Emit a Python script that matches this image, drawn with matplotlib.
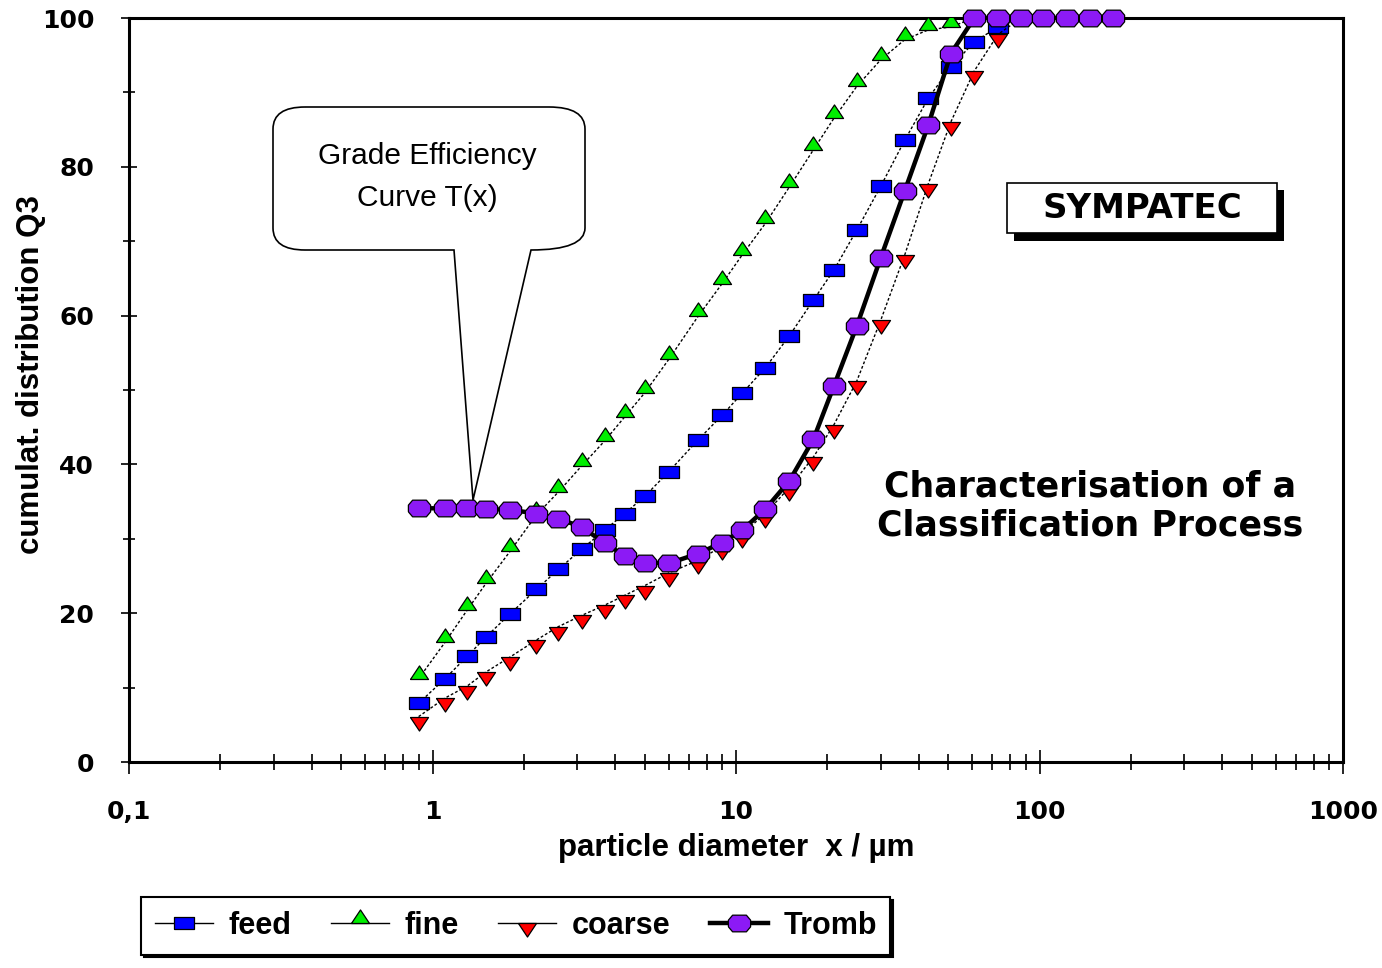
import matplotlib
matplotlib.use('Agg')
import matplotlib.pyplot as plt
from matplotlib.path import Path
from matplotlib.patches import PathPatch, Rectangle
from matplotlib.lines import Line2D
from matplotlib.transforms import Affine2D
from matplotlib.ticker import FixedLocator, LogLocator, NullFormatter

# particle size classes (µm)
x_classes = [0.9, 1.1, 1.3, 1.5, 1.8, 2.2, 2.6, 3.1, 3.7, 4.3, 5.0, 6.0, 7.5, 9.0, 10.5,
             12.5, 15, 18, 21, 25, 30, 36, 43, 51, 61, 73, 87, 103, 123, 147, 175]

# cumulative distributions Q3 (%)
feed = [7.9, 11.2, 14.2, 16.8, 19.9, 23.2, 25.9, 28.6, 31.2, 33.4, 35.7, 39.0, 43.3, 46.6, 49.6,
        53.0, 57.3, 62.1, 66.1, 71.5, 77.4, 83.6, 89.2, 93.4, 96.8, 98.8, 100, 100, 100, 100, 100]
fine = [11.2, 16.1, 20.4, 24.0, 28.3, 33.2, 36.3, 39.8, 43.2, 46.4, 49.6, 54.1, 59.9, 64.3, 68.2,
        72.4, 77.3, 82.3, 86.5, 90.8, 94.4, 97.1, 98.4, 98.8, 100, 100, 100, 100, 100, 100, 100]
coarse = [6.1, 8.6, 10.2, 12.1, 14.1, 16.4, 18.2, 19.7, 21.1, 22.4, 23.7, 25.4, 27.1, 29.0, 30.7,
          33.4, 36.9, 41.0, 45.3, 51.2, 59.4, 68.2, 77.7, 86.0, 92.9, 97.8, 100, 100, 100, 100, 100]
tromb = [34.1, 34.1, 34.1, 34.0, 33.9, 33.4, 32.7, 31.6, 29.4, 27.7, 26.8, 26.7, 28.0, 29.5, 31.2,
         34.0, 37.8, 43.4, 50.5, 58.6, 67.8, 76.8, 85.6, 95.2, 100, 100, 100, 100, 100, 100, 100]

series_names = ['feed', 'fine', 'coarse', 'Tromb']
xtick_vals = [0.1, 1, 10, 100, 1000]
xtick_labels = ['0,1', '1', '10', '100', '1000']
ytick_vals = [0, 20, 40, 60, 80, 100]

W, H = 1382, 968
fig = plt.figure(figsize=(W / 100, H / 100), dpi=100)
ax = fig.add_axes([129 / W, 1 - 762 / H, (1343 - 129) / W, (762 - 18) / H])
# pixel coordinates with origin at the top-left corner of the picture
px = Affine2D().scale(1 / W, -1 / H).translate(0, 1) + fig.transFigure

# marker shapes (windows chart style)
rect_m = [(-1, -0.65), (1, -0.65), (1, 0.65), (-1, 0.65), (-1, -0.65)]
up_m = [(-1, 0), (1, 0), (0, 1.5), (-1, 0)]
down_m = [(-1, 0), (1, 0), (0, -1.5), (-1, 0)]
oct_m = [(-1, -0.3), (-1, 0.3), (-0.62, 0.75), (0.62, 0.75), (1, 0.3), (1, -0.3),
         (0.62, -0.75), (-0.62, -0.75), (-1, -0.3)]

thin = dict(color='black', lw=1.0, mec='black', mew=0.9)
styles = [
    dict(marker=rect_m, ms=13.7, mfc='#0000FF', **thin),
    dict(marker=up_m, ms=19.5, mfc='#00EE00', **thin),
    dict(marker=down_m, ms=19.5, mfc='#FF0000', **thin),
    dict(marker=oct_m, ms=16, mfc='#8C1AF5', color='black', lw=3.2, mec='black', mew=0.9),
]

for vals, st in zip([feed, fine, coarse], styles[:3]):
    # markers sitting on the 100 % line are not drawn by the original chart
    shown = [i for i, v in enumerate(vals) if v < 100]
    ax.plot(x_classes, vals, ls=(0, (2, 1.5)), zorder=3, markevery=shown, **st)
ax.plot(x_classes, tromb, ls='-', zorder=4, clip_on=False, **styles[3])

ax.set_xscale('log')
ax.set_xlim(0.1, 1000)
ax.set_ylim(0, 100)
ax.set_xticks(xtick_vals, xtick_labels)
ax.xaxis.set_minor_locator(LogLocator(base=10, subs=range(2, 10)))
ax.xaxis.set_minor_formatter(NullFormatter())
ax.set_yticks(ytick_vals)
ax.yaxis.set_minor_locator(FixedLocator(range(10, 100, 20)))

for sp in ax.spines.values():
    sp.set_linewidth(2.2)
ax.tick_params(axis='x', which='major', direction='inout', length=17, width=1.2, pad=19, labelsize=18)
ax.tick_params(axis='x', which='minor', direction='inout', length=11, width=1.2)
ax.tick_params(axis='y', which='major', direction='inout', length=12, width=1.2, pad=19, labelsize=18)
ax.tick_params(axis='y', which='minor', direction='inout', length=8, width=1.2)
for lab in ax.get_xticklabels() + ax.get_yticklabels():
    lab.set_fontweight('bold')

lab_font = dict(family='Liberation Sans', weight='bold', size=22.5)
ax.set_xlabel('particle diameter  x / µm', fontdict=lab_font, va='top')
ax.xaxis.set_label_coords(0.5, -(833 - 762) / 744)
ax.set_ylabel('cumulat. distribution Q3', fontdict=lab_font)
ax.yaxis.set_label_coords(-(129 - 46) / 1214, (762 - 375) / 744)

# process title
fig.text(1090 / W, 1 - 506 / H, 'Characterisation of a\nClassification Process',
         ha='center', va='center', fontsize=25, fontweight='bold', linespacing=1.22)

# SYMPATEC box with drop shadow
fig.add_artist(Rectangle((1014, 190), 270, 51, transform=px, facecolor='black', edgecolor='none'))
fig.add_artist(Rectangle((1007, 183), 270, 50, transform=px, facecolor='white', edgecolor='black', lw=1.2))
fig.text(1142 / W, 1 - 209 / H, 'SYMPATEC', ha='center', va='center', fontsize=24.5, fontweight='bold')

# speech bubble pointing to the grade efficiency curve
L, R, T, B = 273, 585, 107, 250
verts = [(L + 32, T), (R - 36, T), (R, T), (R, T + 22), (R, B - 22), (R, B), (531, B),
         (473, 500), (454, B), (L + 32, B), (L, B), (L, B - 22), (L, T + 22), (L, T), (L + 32, T)]
codes = [Path.MOVETO, Path.LINETO, Path.CURVE3, Path.CURVE3, Path.LINETO, Path.CURVE3, Path.CURVE3,
         Path.LINETO, Path.LINETO, Path.LINETO, Path.CURVE3, Path.CURVE3, Path.LINETO, Path.CURVE3,
         Path.CURVE3]
fig.add_artist(PathPatch(Path(verts, codes), transform=px, facecolor='white', edgecolor='black',
                         lw=1.2, zorder=5))
fig.text(427 / W, 1 - 177 / H, 'Grade Efficiency\nCurve T(x)', ha='center', va='center',
         family='Liberation Sans', fontsize=21.5, linespacing=1.6, zorder=6)

# legend
handles = [Line2D([], [], ls='-', **st) for st in styles]
leg_font = dict(family='Liberation Sans', weight='bold', size=22)
leg = fig.legend(handles, series_names, loc='upper left', bbox_to_anchor=(141 / W, 1 - 897 / H),
                 ncol=4, frameon=True, fancybox=False, edgecolor='black', framealpha=1,
                 shadow={'color': 'black', 'alpha': 1}, prop=leg_font, handlelength=1.9,
                 handletextpad=0.5, columnspacing=1.3, borderpad=0.45, borderaxespad=0)
leg.get_frame().set_linewidth(1.5)

fig.savefig('out.png', dpi=100)
